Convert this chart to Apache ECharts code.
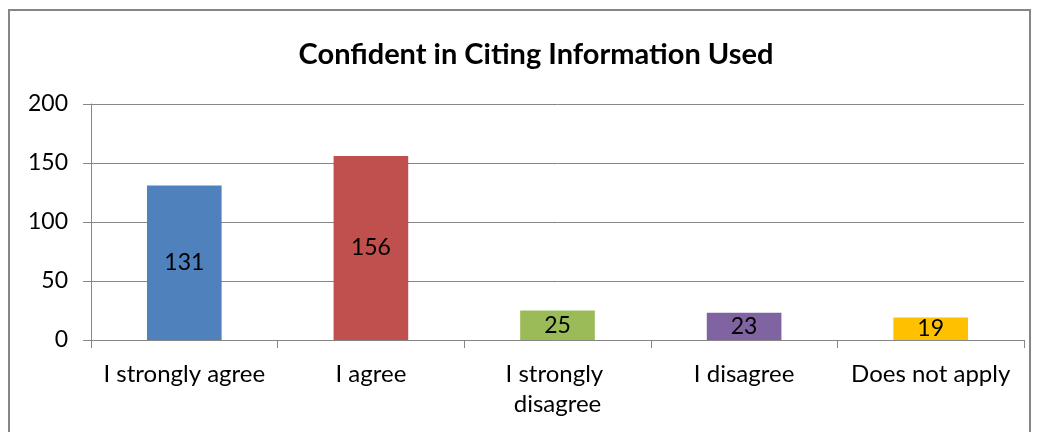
<!DOCTYPE html>
<html>
<head>
<meta charset="utf-8">
<script src="https://cdn.jsdelivr.net/npm/echarts@6/dist/echarts.min.js"></script>
<style>
  html, body { margin: 0; padding: 0; background: #fff; }
  #chart { width: 1038px; height: 432px; }
</style>
</head>
<body>
<div id="chart"></div>
<script>
const categories = ['I strongly agree', 'I agree', 'I strongly disagree', 'I disagree', 'Does not apply']
const values = [131, 156, 25, 23, 19]
const barColors = ['#4F81BD', '#C0504D', '#9BBB59', '#8064A2', '#FFC000']
const yTicks = { min: 0, max: 200, interval: 50 }

const font = 'Lato, "Open Sans", sans-serif'
const chart = echarts.init(document.getElementById('chart'))

chart.setOption({
  animation: false,
  graphic: [{
    type: 'rect',
    shape: { x: 9, y: 10, width: 1021, height: 440 },
    style: { fill: 'none', stroke: '#868686', lineWidth: 2 },
    silent: true,
  }],
  title: {
    text: 'Confident in Citing Information Used',
    left: 531, top: 35, textAlign: 'center',
    textStyle: { fontFamily: font, fontWeight: 'bold', fontSize: 29, color: '#000' },
  },
  grid: { left: 91, right: 14, top: 104, bottom: 92 },
  xAxis: {
    type: 'category', data: categories,
    axisLine: { lineStyle: { color: '#868686', width: 1 } },
    axisTick: { show: true, length: 8, lineStyle: { color: '#868686' } },
    axisLabel: {
      color: '#000', fontFamily: font, fontSize: 24, margin: 19,
      lineHeight: 30, width: 180, overflow: 'break', interval: 0,
    },
  },
  yAxis: {
    type: 'value', ...yTicks,
    axisLine: { show: true, lineStyle: { color: '#868686' } },
    axisTick: { show: true, length: 8, lineStyle: { color: '#868686' } },
    splitLine: { lineStyle: { color: '#868686' } },
    axisLabel: { color: '#000', fontFamily: font, fontSize: 23, margin: 23 },
  },
  series: [{
    type: 'bar',
    data: values.map((v, i) => ({ value: v, itemStyle: { color: barColors[i] } })),
    barWidth: '40%',
    label: {
      show: true, position: 'inside',
      color: '#000', fontFamily: font, fontSize: 23,
    },
  }],
})
</script>
</body>
</html>
